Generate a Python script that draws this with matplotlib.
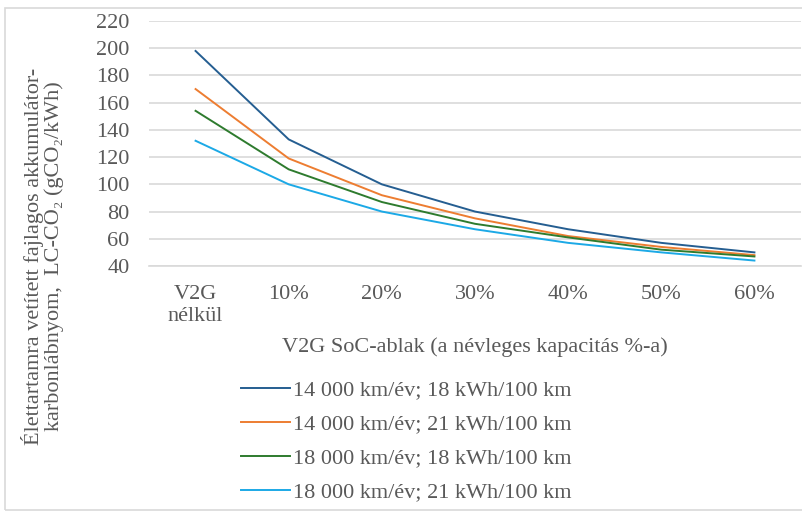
import matplotlib.pyplot as plt
from matplotlib.patches import Rectangle

# categories (V2G SoC window) and lifetime carbon footprint per series
categories = ["V2G\nnélkül", "10%", "20%", "30%", "40%", "50%", "60%"]
s_14k_18 = [198, 133, 100, 80, 67, 57, 50]
s_14k_21 = [170, 119, 92, 75, 62, 54, 48]
s_18k_18 = [154, 111, 87, 71, 61, 52, 47]
s_18k_21 = [132, 100, 80, 67, 57, 50, 44]
labels = [
    "14 000 km/év; 18 kWh/100 km",
    "14 000 km/év; 21 kWh/100 km",
    "18 000 km/év; 18 kWh/100 km",
    "18 000 km/év; 21 kWh/100 km",
]
colors = ["#255E91", "#ED7D31", "#2E7B2E", "#1CA9E6"]

plt.rcParams["font.family"] = ["Liberation Serif", "DejaVu Serif"]
txt = "#595959"
grid = "#D9D9D9"
fs = 16

fig = plt.figure(figsize=(8.02, 5.13), dpi=100)
ax = fig.add_axes([149 / 802, 1 - 266 / 513, 652 / 802, 245 / 513])

x = list(range(len(categories)))
for vals, lab, col in zip([s_14k_18, s_14k_21, s_18k_18, s_18k_21], labels, colors):
    ax.plot(x, vals, color=col, lw=1.4, label=lab)

ax.set_xlim(-0.5, len(categories) - 0.5)
ax.set_ylim(40, 220)
ax.set_yticks(range(40, 221, 20))
ax.set_xticks(x)
ax.set_xticklabels(categories)
ax.yaxis.grid(True, color=grid, lw=1.2)
ax.set_axisbelow(True)
for side in ["top", "right", "left"]:
    ax.spines[side].set_visible(False)
ax.spines["bottom"].set_color(grid)
ax.spines["bottom"].set_linewidth(1.2)
ax.tick_params(length=0, labelsize=fs, colors=txt, pad=14)
ax.tick_params(axis="y", pad=14)

ax.set_xlabel("V2G SoC-ablak (a névleges kapacitás %-a)", fontsize=fs, color=txt, labelpad=8)

fig.text(0.053, 0.5,
         "Élettartamra vetített fajlagos akkumulátor-\nkarbonlábnyom,  LC-CO₂ (gCO₂/kWh)",
         rotation=90, ha="center", va="center", fontsize=fs, color=txt,
         multialignment="center", linespacing=1.0)

leg = fig.legend(loc="upper left", bbox_to_anchor=(230 / 802, 1 - 369 / 513),
                 frameon=False, fontsize=fs, handlelength=2.2, handletextpad=0.15,
                 labelspacing=0.6, borderpad=0)
for t in leg.get_texts():
    t.set_color(txt)

# light frame around the whole chart
fig.patches.append(Rectangle((5 / 802, 3 / 513), 1.2, 1 - 11 / 513,
                             transform=fig.transFigure, fill=False,
                             edgecolor=grid, lw=1.2))

fig.savefig("out.png", dpi=100)
